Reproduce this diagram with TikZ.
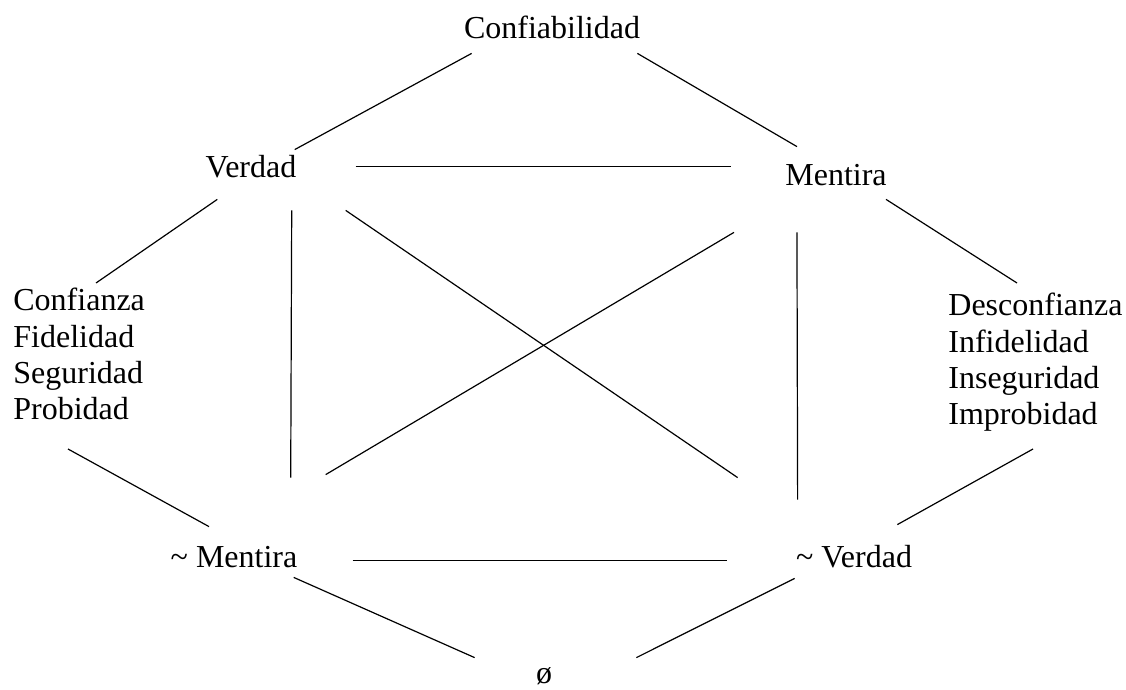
\documentclass[tikz,border=0pt]{standalone}
\usepackage{fontspec}
\setmainfont{Liberation Serif}
\tikzset{
  concept/.style={inner sep=0pt,text height=11pt,text depth=3.5pt,anchor=base},
  quality/.style={inner sep=0pt,align=left,anchor=north west},
  link/.style={line width=0.6pt}
}

\begin{document}
\begin{tikzpicture}[x=0.5pt,y=-0.5pt,font=\fontsize{16}{18.15}\selectfont]
  \useasboundingbox (0,0) rectangle (1126,690);
  % the square of opposition
  \node[concept] (conf) at (552,39) {Confiabilidad};
  \node[concept] (ver) at (251,177) {Verdad};
  \node[concept] (men) at (836,185) {Mentira};
  \node[concept] (nmen) at (234,567) {\textasciitilde{} Mentira};
  \node[concept] (nver) at (854,567) {\textasciitilde{} Verdad};
  \node[concept] (empty) at (544,683) {ø};
  \node[quality] (good) at (13,288) {Confianza\\Fidelidad\\Seguridad\\Probidad};
  \node[quality] (bad) at (948,293) {Desconfianza\\Infidelidad\\Inseguridad\\Improbidad};

  \draw[link] ([shift={(8,7)}]conf.south west) -- ([shift={(-2,-5)}]ver.north east);
  \draw[link] ([shift={(-3,7)}]conf.south east) -- ([shift={(12,-16)}]men.north west);
  \draw[link] ([shift={(59,-3)}]ver.east) -- ([shift={(-54,-11)}]men.west);
  \draw[link] ([shift={(12,15)}]ver.south west) -- ([shift={(83,-5)}]good.north west);
  \draw[link] ([shift={(-5,26)}]ver.south east) -- ([shift={(-7,-67)}]nmen.north east);
  \draw[link] ([shift={(49,26)}]ver.south east) -- ([shift={(-58,-67)}]nver.north west);
  \draw[link] ([shift={(-51,40)}]men.south west) -- ([shift={(28,-70)}]nmen.north east);
  \draw[link] ([shift={(12,40)}]men.south west) -- ([shift={(2,-45)}]nver.north west);
  \draw[link] ([shift={(-1,7)}]men.south east) -- ([shift={(69,-10)}]bad.north west);
  \draw[link] ([shift={(55,161)}]good.north west) -- ([shift={(-25,-18)}]nmen.north);
  \draw[link] ([shift={(85,156)}]bad.north west) -- ([shift={(-15,-20)}]nver.north east);
  \draw[link] ([shift={(55,1)}]nmen.east) -- ([shift={(-69,1)}]nver.west);
  \draw[link] ([shift={(-4,3)}]nmen.south east) -- ([shift={(-61,-3)}]empty.north west);
  \draw[link] ([shift={(-1,4)}]nver.south west) -- ([shift={(84,-3)}]empty.north east);
\end{tikzpicture}
\end{document}
